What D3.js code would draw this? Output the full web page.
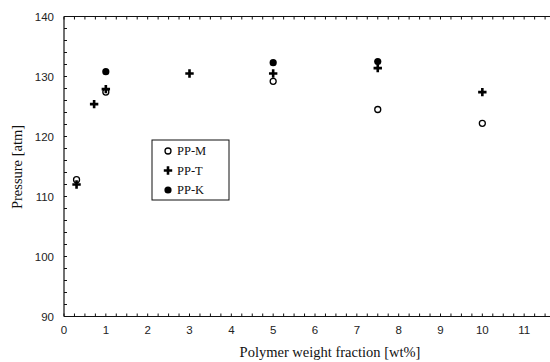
<!DOCTYPE html>
<html>
<head>
<meta charset="utf-8">
<script src="https://cdn.jsdelivr.net/npm/d3@7"></script>
<style>
  body { margin: 0; background: #fff; }
  .tick-label { font-family: 'Liberation Sans Narrow', 'Arial Narrow', 'Liberation Sans', sans-serif; font-size: 11.5px; fill: #222; }
  .title { font-family: 'Liberation Serif', 'Times New Roman', serif; font-size: 14.5px; fill: #111; }
  .legend-text { font-family: 'Liberation Serif', 'Times New Roman', serif; font-size: 12.5px; fill: #111; }
</style>
</head>
<body>
<div class="vis-scatter"></div>
<script>
const xTicks = [0, 1, 2, 3, 4, 5, 6, 7, 8, 9, 10, 11];
const yTicks = [90, 100, 110, 120, 130, 140];

const ppM_x = [0.3, 1, 5, 7.5, 10];
const ppM_y = [112.8, 127.4, 129.2, 124.5, 122.2];

const ppT_x = [0.3, 0.72, 1, 3, 5, 7.5, 10];
const ppT_y = [112.0, 125.4, 127.9, 130.5, 130.5, 131.4, 127.4];

const ppK_x = [1, 5, 7.5];
const ppK_y = [130.8, 132.3, 132.5];

const seriesNames = ['PP-M', 'PP-T', 'PP-K'];

const W = 550, H = 362;
const margin = { top: 16.5, right: -16, bottom: 45.5, left: 64 };
const width = W - margin.left - margin.right;
const height = H - margin.top - margin.bottom;

const svg = d3.select('.vis-scatter')
  .append('svg')
  .attr('width', W)
  .attr('height', H);

const g = svg.append('g')
  .attr('transform', `translate(${margin.left},${margin.top})`);

const x = d3.scaleLinear().domain([0, 12]).range([0, width]);
const y = d3.scaleLinear().domain([90, 140]).range([height, 0]);

// frame: left, bottom, top (right side falls outside the picture)
g.append('line').attr('x1', 0).attr('x2', 0).attr('y1', 0).attr('y2', height)
  .attr('stroke', '#111').attr('stroke-width', 1.2);
g.append('line').attr('x1', 0).attr('x2', width).attr('y1', height).attr('y2', height)
  .attr('stroke', '#111').attr('stroke-width', 1.2);
g.append('line').attr('x1', 0).attr('x2', width).attr('y1', 0).attr('y2', 0)
  .attr('stroke', '#111').attr('stroke-width', 1.2);

// inward minor ticks
const xMinor = d3.range(0, 12.01, 0.25);
const yMinor = d3.range(90, 140.01, 2);

g.selectAll('.xmb').data(xMinor).enter().append('line')
  .attr('x1', (d) => x(d)).attr('x2', (d) => x(d))
  .attr('y1', height).attr('y2', height - 3)
  .attr('stroke', '#111');
g.selectAll('.xmt').data(xMinor).enter().append('line')
  .attr('x1', (d) => x(d)).attr('x2', (d) => x(d))
  .attr('y1', 0).attr('y2', 3)
  .attr('stroke', '#111');
g.selectAll('.ym').data(yMinor).enter().append('line')
  .attr('x1', 0).attr('x2', 3)
  .attr('y1', (d) => y(d)).attr('y2', (d) => y(d))
  .attr('stroke', '#111');

// tick labels
g.selectAll('.xl').data(xTicks).enter().append('text')
  .attr('class', 'tick-label')
  .attr('x', (d) => x(d))
  .attr('y', height + 17)
  .attr('text-anchor', 'middle')
  .text((d) => d);

g.selectAll('.yl').data(yTicks).enter().append('text')
  .attr('class', 'tick-label')
  .attr('x', -10)
  .attr('y', (d) => y(d) + 4)
  .attr('text-anchor', 'end')
  .text((d) => d);

// axis titles
svg.append('text')
  .attr('class', 'title')
  .attr('x', 330)
  .attr('y', 357)
  .attr('text-anchor', 'middle')
  .text('Polymer weight fraction [wt%]');

svg.append('text')
  .attr('class', 'title')
  .attr('transform', 'translate(22,167) rotate(-90)')
  .attr('text-anchor', 'middle')
  .text('Pressure [atm]');

// markers
const plusPath = 'M-4.2,-1.3H-1.3V-4.2H1.3V-1.3H4.2V1.3H1.3V4.2H-1.3V1.3H-4.2Z';

const drawCircles = (xs, ys, filled) => {
  g.selectAll(null).data(xs).enter().append('circle')
    .attr('cx', (d) => x(d))
    .attr('cy', (d, i) => y(ys[i]))
    .attr('r', filled ? 3.6 : 3)
    .attr('fill', filled ? '#000' : '#fff')
    .attr('stroke', '#000')
    .attr('stroke-width', filled ? 0 : 1.3);
};

drawCircles(ppM_x, ppM_y, false);

g.selectAll(null).data(ppT_x).enter().append('path')
  .attr('d', plusPath)
  .attr('transform', (d, i) => `translate(${x(d)},${y(ppT_y[i])})`)
  .attr('fill', '#000');

drawCircles(ppK_x, ppK_y, true);

// legend
const legend = svg.append('g').attr('transform', 'translate(152,140)');
legend.append('rect')
  .attr('width', 77).attr('height', 60)
  .attr('fill', '#fff').attr('stroke', '#111').attr('stroke-width', 1);

seriesNames.forEach((name, i) => {
  const cy = 11 + i * 19.5;
  if (i === 0) {
    legend.append('circle').attr('cx', 16).attr('cy', cy).attr('r', 3)
      .attr('fill', '#fff').attr('stroke', '#000').attr('stroke-width', 1.3);
  } else if (i === 1) {
    legend.append('path').attr('d', plusPath)
      .attr('transform', `translate(16,${cy})`).attr('fill', '#000');
  } else {
    legend.append('circle').attr('cx', 16).attr('cy', cy).attr('r', 3.6).attr('fill', '#000');
  }
  legend.append('text')
    .attr('class', 'legend-text')
    .attr('x', 25)
    .attr('y', cy + 4)
    .text(name);
});
</script>
</body>
</html>
